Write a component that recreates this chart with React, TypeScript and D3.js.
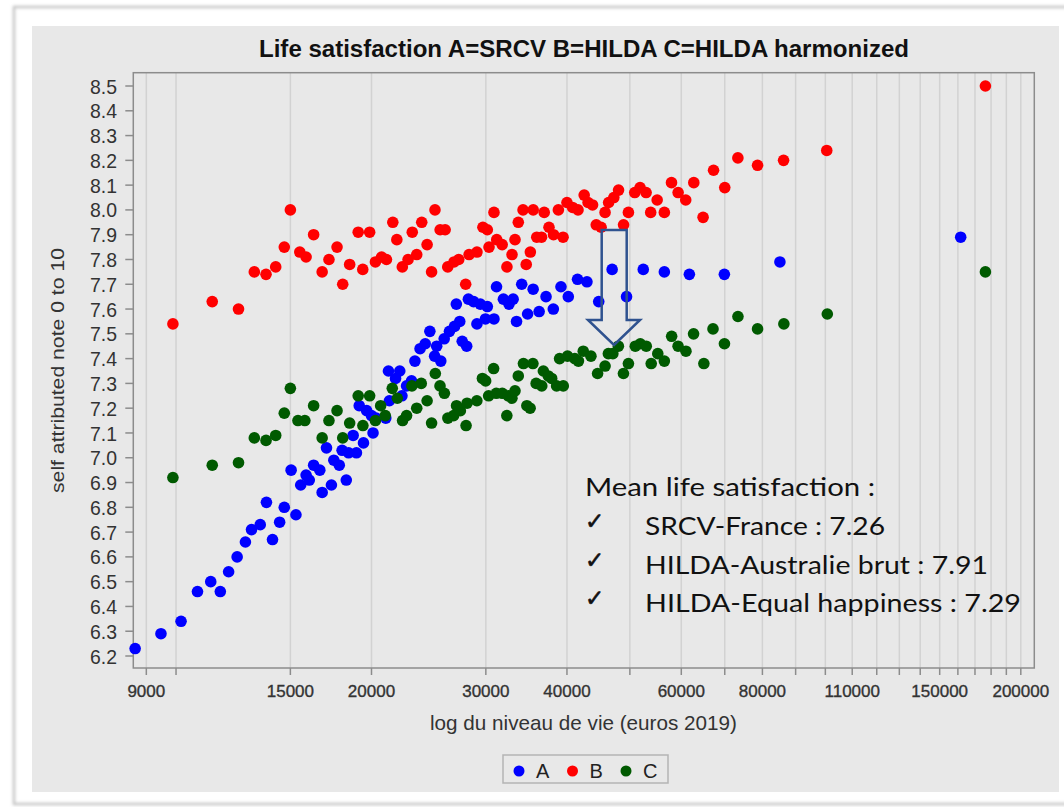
import React from "react";
import * as d3 from "d3";

// series A = SRCV, B = HILDA, C = HILDA harmonized : [niveau de vie (euros 2019), satisfaction]
const pointsA: [number, number][] = [
  [8650, 6.23], [9480, 6.29], [10180, 6.34], [10790, 6.46], [11310, 6.50], [11700, 6.46],
  [12050, 6.54], [12420, 6.60], [12790, 6.66], [13070, 6.71], [13480, 6.73], [13780, 6.82],
  [14080, 6.67], [14440, 6.74], [14680, 6.80], [15300, 6.77], [15040, 6.95], [15560, 6.89],
  [15860, 6.93], [16040, 6.91], [16290, 6.97], [16650, 6.95], [16790, 6.86], [17350, 6.89],
  [17050, 7.04], [17500, 6.99], [17840, 6.97], [18290, 6.91], [18020, 7.03], [18440, 7.02],
  [18960, 7.02], [18740, 7.09], [19440, 7.06], [20110, 7.10], [19150, 7.21], [19660, 7.19],
  [20000, 7.17], [20330, 7.16], [21040, 7.16], [21310, 7.23], [22280, 7.25], [21240, 7.35],
  [22110, 7.35], [21780, 7.32], [23050, 7.31], [22650, 7.29], [23330, 7.39], [23760, 7.44],
  [24200, 7.46], [24600, 7.51], [25020, 7.41], [25570, 7.39], [25200, 7.45], [25880, 7.48],
  [26370, 7.51], [26850, 7.53], [27350, 7.55], [27590, 7.47], [28030, 7.45], [27020, 7.62],
  [28200, 7.64], [28730, 7.63], [29420, 7.62], [30160, 7.61], [29070, 7.54], [29960, 7.56],
  [30880, 7.56], [31160, 7.69], [31930, 7.64], [32570, 7.62], [33050, 7.64], [33450, 7.55],
  [34070, 7.70], [34790, 7.58], [35480, 7.68], [36240, 7.59], [37140, 7.65], [38110, 7.60],
  [39160, 7.69], [40190, 7.65], [41530, 7.72], [42940, 7.71], [44770, 7.63], [46950, 7.76],
  [49410, 7.65], [52430, 7.76], [56500, 7.75], [61740, 7.74], [69900, 7.74], [85120, 7.79],
  [161600, 7.89],
];

const pointsB: [number, number][] = [
  [9890, 7.54], [11370, 7.63], [12480, 7.60], [13200, 7.75], [13760, 7.74], [14240, 7.77],
  [14680, 7.85], [15000, 8.00], [15510, 7.83], [15860, 7.81], [16290, 7.90], [16790, 7.75],
  [17200, 7.80], [17700, 7.85], [18060, 7.70], [18510, 7.78], [19080, 7.91], [19390, 7.76],
  [19870, 7.91], [20280, 7.79], [20730, 7.81], [21090, 7.80], [21570, 7.95], [21880, 7.88],
  [22310, 7.77], [22770, 7.80], [23110, 7.91], [23480, 7.82], [23900, 7.95], [24360, 7.86],
  [24750, 7.75], [25050, 8.00], [25510, 7.92], [25970, 7.92], [26210, 7.77], [26800, 7.79],
  [27250, 7.80], [27930, 7.70], [28270, 7.82], [29070, 7.83], [29690, 7.93], [30160, 7.92],
  [30340, 7.85], [30880, 7.99], [31180, 7.88], [31790, 7.86], [32330, 7.77], [32920, 7.82],
  [33270, 7.88], [33660, 7.95], [34230, 8.00], [34620, 7.78], [35130, 7.83], [35490, 8.00],
  [35940, 7.89], [36550, 7.89], [36900, 7.99], [37530, 7.93], [38140, 7.90], [38800, 8.00],
  [39450, 7.89], [40000, 8.03], [40810, 8.01], [41600, 8.00], [42520, 8.06], [43110, 8.03],
  [43800, 8.02], [44380, 7.94], [45150, 7.93], [45790, 7.99], [46370, 8.03], [47230, 8.05],
  [48030, 8.08], [48890, 7.94], [49740, 7.99], [50870, 8.07], [51840, 8.09], [52960, 8.07],
  [53830, 7.99], [55080, 8.04], [56500, 7.99], [57950, 8.11], [59330, 8.07], [60950, 8.04],
  [62720, 8.11], [64820, 7.97], [67270, 8.16], [70000, 8.09], [73330, 8.21], [78630, 8.18],
  [86230, 8.20], [100500, 8.24], [176400, 8.50],
];

const pointsC: [number, number][] = [
  [9890, 6.92], [11370, 6.97], [12480, 6.98], [13200, 7.08], [13760, 7.07], [14240, 7.09],
  [14680, 7.18], [15000, 7.28], [15410, 7.15], [15790, 7.15], [16290, 7.21], [16790, 7.08],
  [17200, 7.15], [17700, 7.19], [18060, 7.08], [18510, 7.14], [19080, 7.25], [19400, 7.13],
  [19870, 7.25], [20280, 7.15], [20660, 7.21], [21000, 7.17], [21530, 7.28], [21920, 7.24],
  [22330, 7.15], [22650, 7.17], [23080, 7.29], [23480, 7.20], [23860, 7.30], [24360, 7.23],
  [24750, 7.14], [25080, 7.34], [25500, 7.29], [25900, 7.26], [26220, 7.16], [26760, 7.17],
  [27040, 7.21], [27410, 7.19], [27970, 7.13], [28070, 7.22], [29060, 7.23], [29640, 7.32],
  [29980, 7.31], [30300, 7.25], [30840, 7.36], [31130, 7.26], [31800, 7.26], [32320, 7.17],
  [32490, 7.25], [32910, 7.24], [33270, 7.27], [33660, 7.33], [34280, 7.38], [35450, 7.38],
  [34700, 7.21], [35100, 7.20], [35860, 7.30], [36580, 7.29], [36790, 7.35], [37440, 7.33],
  [37890, 7.32], [38560, 7.29], [39480, 7.29], [38970, 7.40], [40080, 7.41], [41130, 7.40],
  [41660, 7.39], [42380, 7.43], [43550, 7.41], [44590, 7.34], [45790, 7.37], [46330, 7.42],
  [47070, 7.42], [48000, 7.45], [48870, 7.34], [49740, 7.38], [50970, 7.45], [51880, 7.46],
  [52990, 7.45], [53930, 7.38], [55200, 7.42], [56500, 7.39], [57980, 7.49], [59320, 7.45],
  [61000, 7.43], [62670, 7.50], [65000, 7.38], [67140, 7.52], [69920, 7.46], [73350, 7.57],
  [78630, 7.52], [86320, 7.54], [100700, 7.58], [176400, 7.75],
];

const seriesNames = ["A", "B", "C"];
const seriesColors = ["#0000ff", "#ff0000", "#005a00"];

const yTicks = d3.range(6.2, 8.55, 0.1).map((v) => +v.toFixed(1));
const xTickLabels = [9000, 15000, 20000, 30000, 40000, 60000, 80000, 110000, 150000, 200000];
const xTickMarks = [9000, 10000, 15000, 20000, 30000, 40000].concat(d3.range(50000, 200001, 10000));

const title = "Life satisfaction A=SRCV B=HILDA C=HILDA harmonized";
const xLabel = "log du niveau de vie (euros 2019)";
const yLabel = "self attributed note 0 to 10";
const noteTitle = "Mean life satisfaction :";
const noteLines = ["SRCV-France : 7.26", "HILDA-Australie brut : 7.91", "HILDA-Equal happiness : 7.29"];
const noteWidths = [240, 343, 376];

const App = () => {
  const left = 133.3, right = 1034.3, top = 72.7, bottom = 668;
  const x = d3.scaleLog().domain([8594, 209800]).range([left, right]);
  const y = d3.scaleLinear().domain([6.1516, 8.5537]).range([bottom, top]);
  const sans = "'Liberation Sans', Arial, sans-serif";
  const axisCol = "#8c8c8c";

  const allSeries = [pointsA, pointsB, pointsC];

  return (
    <svg width={1064} height={807} style={{ position: "absolute", left: 0, top: 0 }}>
      <defs>
        <filter id="soft" x="-5%" y="-5%" width="110%" height="110%">
          <feGaussianBlur stdDeviation="1.5" />
        </filter>
      </defs>
      <rect x={0} y={0} width={1064} height={807} fill="#ffffff" />
      {/* picture frame */}
      <rect x={14} y={7} width={1070} height={797} fill="none" stroke="#c4c4c4" strokeWidth={2.5} filter="url(#soft)" />
      <rect x={32} y={26} width={1027} height={766} fill="#e8e8e8" />

      <text x={584} y={57} textAnchor="middle" fontFamily={sans} fontWeight="bold" fontSize={23}
        textLength={650} lengthAdjust="spacingAndGlyphs" fill="#111">{title}</text>

      {/* vertical grid */}
      {xTickMarks.map((t) => (
        <line key={"g" + t} x1={x(t)} x2={x(t)} y1={top} y2={bottom} stroke="#d2d2d2" strokeWidth={1.5} />
      ))}

      {/* frame */}
      <rect x={left} y={top} width={right - left} height={bottom - top} fill="none" stroke={axisCol} strokeWidth={1.5} />

      {/* y axis */}
      {yTicks.map((t) => (
        <g key={"y" + t}>
          <line x1={left - 8} x2={left} y1={y(t)} y2={y(t)} stroke={axisCol} strokeWidth={1.5} />
          <text x={117} y={y(t)} dy="0.36em" textAnchor="end" fontFamily={sans} fontSize={21}
            textLength={27} lengthAdjust="spacingAndGlyphs" fill="#333">{t.toFixed(1)}</text>
        </g>
      ))}
      <text transform={`translate(64,370.5) rotate(-90)`} textAnchor="middle" fontFamily={sans} fontSize={19}
        textLength={245} lengthAdjust="spacingAndGlyphs" fill="#333">{yLabel}</text>

      {/* x axis */}
      {xTickMarks.map((t) => (
        <line key={"x" + t} x1={x(t)} x2={x(t)} y1={bottom} y2={bottom + 7} stroke={axisCol} strokeWidth={1.5} />
      ))}
      {xTickLabels.map((t) => (
        <text key={"xl" + t} x={x(t)} y={697} textAnchor="middle" fontFamily={sans} fontSize={17}
          fill="#333" stroke="#333" strokeWidth={0.35}>{t}</text>
      ))}
      <text x={583.5} y={729.5} textAnchor="middle" fontFamily={sans} fontSize={21}
        textLength={307} lengthAdjust="spacingAndGlyphs" fill="#333">{xLabel}</text>

      {/* points */}
      {allSeries.map((pts, i) => (
        <g key={"s" + i} fill={seriesColors[i]}>
          {pts.map((d, j) => (
            <circle key={j} cx={x(d[0])} cy={y(d[1])} r={5.8} />
          ))}
        </g>
      ))}

      {/* arrow */}
      <path d="M601.7,230 L626.7,230 L626.7,320 L640,320 L614,345 L588,320 L601.7,320 Z"
        fill="none" stroke="#2f528f" strokeWidth={2.5} strokeLinejoin="miter" />

      {/* annotation */}
      <g fontFamily="Lato, 'Open Sans', sans-serif" fontSize={25} fill="#111">
        <text x={585} y={496} textLength={290} lengthAdjust="spacingAndGlyphs">{noteTitle}</text>
        {noteLines.map((s, i) => (
          <g key={"n" + i}>
            <text x={585} y={529 + i * 38.5} fontFamily="'DejaVu Sans', sans-serif" fontSize={23}
              stroke="#111" strokeWidth={0.6}>✓</text>
            <text x={645} y={535 + i * 38.5} textLength={noteWidths[i]} lengthAdjust="spacingAndGlyphs">{s}</text>
          </g>
        ))}
      </g>

      {/* legend */}
      <rect x={503} y={755} width={165} height={28} fill="#e8e8e8" stroke="#b4b4b4" strokeWidth={1.5} />
      {seriesNames.map((n, i) => (
        <g key={"l" + n}>
          <circle cx={519 + i * 53.5} cy={771} r={5.5} fill={seriesColors[i]} />
          <text x={536 + i * 53.5} y={778} fontFamily={sans} fontSize={20} fill="#222">{n}</text>
        </g>
      ))}
    </svg>
  );
};

export default App;
